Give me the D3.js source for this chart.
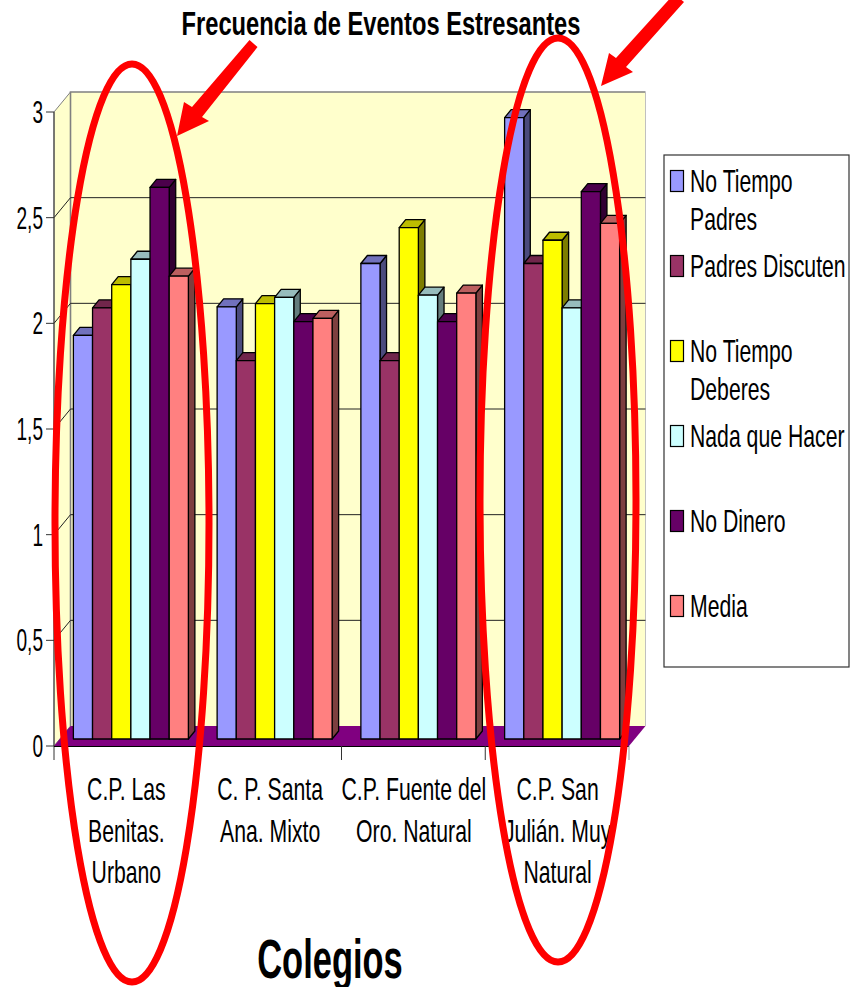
<!DOCTYPE html>
<html>
<head>
<meta charset="utf-8">
<script src="https://cdn.jsdelivr.net/npm/d3@7"></script>
<style>
html,body{margin:0;padding:0;background:#fff}
svg{display:block}
text{font-family:"Liberation Sans",Arial,sans-serif;fill:#000}
</style>
</head>
<body>
<svg id="chart" width="852" height="987"></svg>
<script>
const categories = [
  ["C.P. Las", "Benitas.", "Urbano"],
  ["C. P. Santa", "Ana. Mixto"],
  ["C.P. Fuente del", "Oro. Natural"],
  ["C.P. San", "Julián. Muy", "Natural"]
];
const seriesNames = ["No Tiempo Padres", "Padres Discuten", "No Tiempo Deberes", "Nada que Hacer", "No Dinero", "Media"];
const legendLines = [["No Tiempo", "Padres"], ["Padres Discuten"], ["No Tiempo", "Deberes"], ["Nada que Hacer"], ["No Dinero"], ["Media"]];
const noTiempoPadres = [1.91, 2.045, 2.25, 2.94];
const padresDiscuten = [2.04, 1.79, 1.79, 2.25];
const noTiempoDeberes = [2.15, 2.06, 2.42, 2.36];
const nadaQueHacer = [2.27, 2.09, 2.10, 2.04];
const noDinero = [2.61, 1.975, 1.975, 2.59];
const media = [2.19, 1.99, 2.11, 2.44];
const seriesValues = [noTiempoPadres, padresDiscuten, noTiempoDeberes, nadaQueHacer, noDinero, media];
const colors = ["#9999FF", "#993366", "#FFFF00", "#CCFFFF", "#660066", "#FF8080"];
const yTicks = [0, 0.5, 1, 1.5, 2, 2.5, 3];
const yTickLabels = ["0", "0,5", "1", "1,5", "2", "2,5", "3"];

const svg = d3.select("#chart");

// Frame of the pseudo-3D box: front edge of the floor plus a depth offset to the back wall
const frontLeft = 54, frontRight = 629, front0 = 746, front3 = 112;
const wallDX = 16.5, wallDY = -20;
const barDX = 5, barDY = -7, sideDX = 6.5, sideDY = -8;

const x0 = d3.scaleBand().domain(d3.range(categories.length)).range([frontLeft, frontRight]).paddingInner(0).paddingOuter(0);
const barSpan = 115;
const x1 = d3.scaleBand().domain(d3.range(seriesNames.length)).range([0, barSpan]);
const y = d3.scaleLinear().domain([0, 3]).range([front0, front3]);
const pts = a => a.map(p => p.join(",")).join(" ");

// Text squeezed horizontally about its anchor, for the condensed look of the labels
function label(x, yPos, str, opts = {}) {
  const { size = 31, squeeze = 0.68, anchor = "start", bold = false } = opts;
  return svg.append("text")
    .attr("transform", `translate(${x},${yPos}) scale(${squeeze},1)`)
    .attr("text-anchor", anchor)
    .style("font-size", size + "px")
    .style("font-weight", bold ? "bold" : "normal")
    .text(str);
}

// Walls
svg.append("polygon")
  .attr("points", pts([[frontLeft, front0], [frontLeft, front3], [frontLeft + wallDX, front3 + wallDY], [frontLeft + wallDX, front0 + wallDY]]))
  .attr("fill", "#FFFFCC").attr("stroke", "#808080");
svg.append("rect")
  .attr("x", frontLeft + wallDX).attr("y", front3 + wallDY)
  .attr("width", frontRight - frontLeft).attr("height", front0 - front3)
  .attr("fill", "#FFFFCC").attr("stroke", "none");
svg.append("path")
  .attr("d", `M${frontLeft + wallDX},${front0 + wallDY}V${front3 + wallDY}H${frontRight + wallDX}`)
  .attr("fill", "none").attr("stroke", "#808080").attr("stroke-width", 1.6);
svg.append("line")
  .attr("x1", frontRight + wallDX).attr("x2", frontRight + wallDX)
  .attr("y1", front3 + wallDY).attr("y2", front0 + wallDY)
  .attr("stroke", "#c0c0c0");

// Gridlines across the side wall and back wall
yTicks.filter(v => v > 0 && v < 3).forEach(v => {
  svg.append("polyline")
    .attr("points", pts([[frontLeft, y(v)], [frontLeft + wallDX, y(v) + wallDY], [frontRight + wallDX, y(v) + wallDY]]))
    .attr("fill", "none").attr("stroke", "#222").attr("stroke-width", 1);
});

// Floor
svg.append("polygon")
  .attr("points", pts([[frontLeft, front0], [frontRight, front0], [frontRight + wallDX, front0 + wallDY], [frontLeft + wallDX, front0 + wallDY]]))
  .attr("fill", "#800080");

// Axes
svg.append("line").attr("x1", frontLeft).attr("x2", frontLeft).attr("y1", front3).attr("y2", 760).attr("stroke", "#333");
svg.append("line").attr("x1", frontLeft).attr("x2", frontRight).attr("y1", front0 + 0.5).attr("y2", front0 + 0.5).attr("stroke", "#000").attr("stroke-width", 1.2);
yTicks.forEach((v, i) => {
  svg.append("line").attr("x1", 46).attr("x2", frontLeft).attr("y1", y(v)).attr("y2", y(v)).attr("stroke", "#333");
  label(43, y(v) + 11, yTickLabels[i], { anchor: "end", squeeze: 0.615 });
});
d3.range(1, categories.length + 1).forEach(i => {
  const px = x0(i - 1) + x0.bandwidth();
  svg.append("line").attr("x1", px).attr("x2", px).attr("y1", front0).attr("y2", 760)
    .attr("stroke", i === categories.length ? "#999" : "#333");
});

// Bars: side and top faces first, then the front, left to right so neighbours overlap
const shade = (c, k) => d3.rgb(c).darker(k).formatHex();
categories.forEach((_, ci) => {
  const gx = x0(ci) + (x0.bandwidth() - barSpan) / 2 + barDX;
  seriesValues.forEach((vals, si) => {
    const bx = gx + x1(si), w = x1.bandwidth();
    const top = y(vals[ci]) + barDY, base = front0 + barDY;
    const g = svg.append("g").attr("stroke", "#000").attr("stroke-width", 1.3).attr("stroke-linejoin", "round");
    g.append("polygon")
      .attr("points", pts([[bx + w, top], [bx + w + sideDX, top + sideDY], [bx + w + sideDX, base + sideDY], [bx + w, base]]))
      .attr("fill", shade(colors[si], 2));
    g.append("polygon")
      .attr("points", pts([[bx, top], [bx + sideDX, top + sideDY], [bx + w + sideDX, top + sideDY], [bx + w, top]]))
      .attr("fill", shade(colors[si], 0.85));
    g.append("rect").attr("x", bx).attr("y", top).attr("width", w).attr("height", base - top).attr("fill", colors[si]);
  });
});

// Category labels
categories.forEach((lines, ci) => {
  const cx = x0(ci) + x0.bandwidth() / 2;
  lines.forEach((ln, li) => {
    label(cx + 0.5, 800 + li * 41.5, ln, { anchor: "middle", squeeze: 0.685 });
  });
});

// Legend box
svg.append("rect").attr("x", 664).attr("y", 155).attr("width", 185).attr("height", 512)
  .attr("fill", "#fff").attr("stroke", "#333").attr("stroke-width", 1.2);
const legendY = d3.scalePoint().domain(d3.range(seriesNames.length)).range([181, 606]);
seriesNames.forEach((name, i) => {
  const cy = legendY(i);
  svg.append("rect").attr("x", 670.5).attr("y", cy - 10.5).attr("width", 13).attr("height", 21)
    .attr("fill", colors[i]).attr("stroke", "#000").attr("stroke-width", 1.2);
  legendLines[i].forEach((ln, li) => {
    label(690, cy + 11 + li * 38, ln, { squeeze: 0.685 });
  });
});

// Titles
label(381, 35, "Frecuencia de Eventos Estresantes", { anchor: "middle", size: 33, squeeze: 0.718, bold: true });
label(330, 978, "Colegios", { anchor: "middle", size: 55, squeeze: 0.627, bold: true });

// Red annotations highlighting the two outer schools
const ann = svg.append("g");
ann.append("ellipse").attr("cx", 132).attr("cy", 523).attr("rx", 77).attr("ry", 459)
  .attr("fill", "none").attr("stroke", "#FF0000").attr("stroke-width", 7);
ann.append("ellipse").attr("cx", 558).attr("cy", 500).attr("rx", 78).attr("ry", 462)
  .attr("fill", "none").attr("stroke", "#FF0000").attr("stroke-width", 7);
ann.append("polygon")
  .attr("points", pts([[177, 136], [184, 102], [192, 107], [249.5, 40], [257.5, 47], [202, 117], [209, 121]]))
  .attr("fill", "#FF0000");
ann.append("polygon")
  .attr("points", pts([[601, 86], [609, 53], [616, 58], [674, -6], [684, 2], [626, 67], [633, 72]]))
  .attr("fill", "#FF0000");
</script>
</body>
</html>
